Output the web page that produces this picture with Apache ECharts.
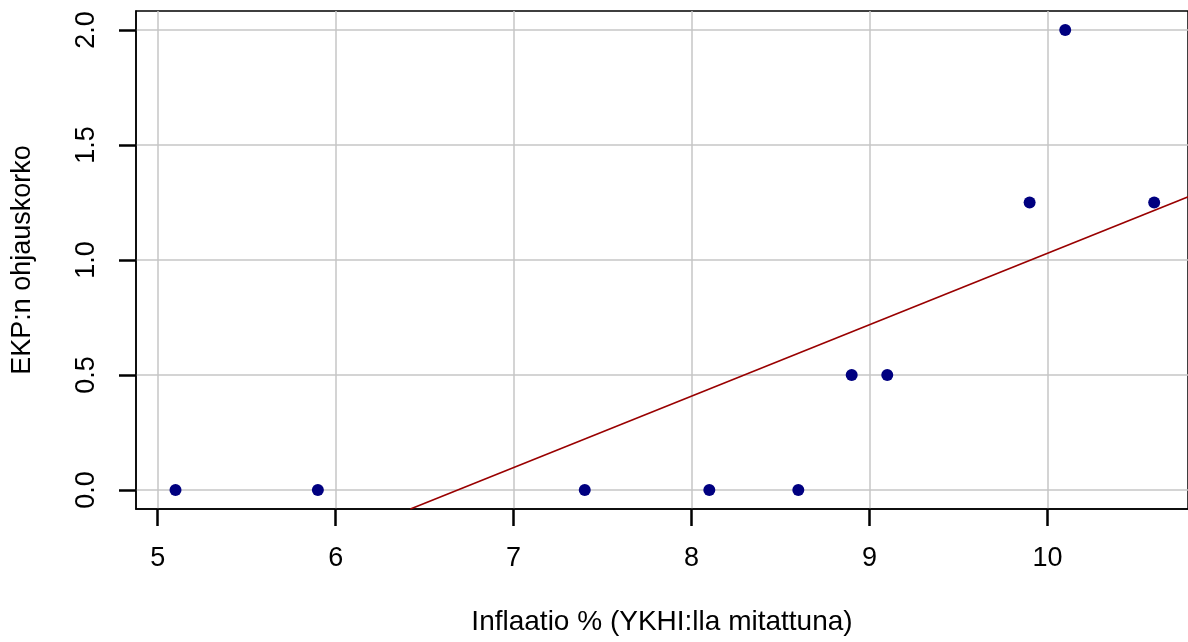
<!DOCTYPE html>
<html>
<head>
<meta charset="utf-8">
<script src="https://cdn.jsdelivr.net/npm/echarts@6/dist/echarts.min.js"></script>
<style>
  html, body { margin: 0; padding: 0; background: #fff; }
  #chart { width: 1188px; height: 642px; }
</style>
</head>
<body>
<div id="chart"></div>
<script>
// inflaatio (YKHI) vs EKP:n ohjauskorko
const inflation = [5.1, 5.9, 7.4, 8.1, 8.6, 8.9, 9.1, 9.9, 10.1, 10.6]
const rate = [0, 0, 0, 0, 0, 0.5, 0.5, 1.25, 2.0, 1.25]
// fitted line, end points
const fitX = [6.42, 10.82]
const fitY = [-0.083, 1.284]
const xTicks = [5, 6, 7, 8, 9, 10]
const yTicks = [0, 0.5, 1, 1.5, 2]

const font = 'Liberation Sans, Arial, sans-serif'
const myChart = echarts.init(document.getElementById('chart'))

const points = inflation.map((x, i) => [x, rate[i]])
const fit = fitX.map((x, i) => [x, fitY[i]])

const option = {
  animation: false,
  grid: {
    left: 136,
    top: 11,
    right: 0,
    bottom: 133,
    show: true,
    borderColor: '#000',
    borderWidth: 1.5,
  },
  xAxis: {
    type: 'value',
    min: 4.878,
    max: 10.79,
    name: 'Inflaatio % (YKHI:lla mitattuna)',
    nameLocation: 'middle',
    nameGap: 99,
    nameTextStyle: { fontFamily: font, fontSize: 28, color: '#000' },
    axisLine: { show: true, onZero: false, lineStyle: { color: '#000', width: 1.5 } },
    axisTick: {
      show: true,
      length: 17,
      customValues: xTicks,
      lineStyle: { color: '#000', width: 2.5 },
    },
    axisLabel: {
      customValues: xTicks,
      margin: 36,
      fontFamily: font,
      fontSize: 27,
      color: '#000',
    },
    splitLine: { show: true, lineStyle: { color: '#c6c6c6', width: 1.5 } },
  },
  yAxis: {
    type: 'value',
    min: -0.083,
    max: 2.083,
    name: 'EKP:n ohjauskorko',
    nameLocation: 'middle',
    nameRotate: 90,
    nameGap: 100,
    nameTextStyle: { fontFamily: font, fontSize: 27, color: '#000' },
    axisLine: { show: true, onZero: false, lineStyle: { color: '#000', width: 1.5 } },
    axisTick: {
      show: true,
      length: 17,
      customValues: yTicks,
      lineStyle: { color: '#000', width: 2.5 },
    },
    axisLabel: {
      customValues: yTicks,
      rotate: 90,
      margin: 36,
      fontFamily: font,
      fontSize: 27,
      color: '#000',
      formatter: function (v) {
        return v.toFixed(1)
      },
    },
    splitLine: { show: true, lineStyle: { color: '#c6c6c6', width: 1.5 } },
  },
  series: [
    {
      name: 'fit',
      type: 'line',
      data: fit,
      symbol: 'none',
      clip: true,
      lineStyle: { color: '#990000', width: 1.6 },
      z: 3,
    },
    {
      name: 'havainnot',
      type: 'scatter',
      data: points,
      symbolSize: 12,
      itemStyle: { color: '#000080', opacity: 1 },
      z: 4,
    },
  ],
}
myChart.setOption(option)
</script>
</body>
</html>
